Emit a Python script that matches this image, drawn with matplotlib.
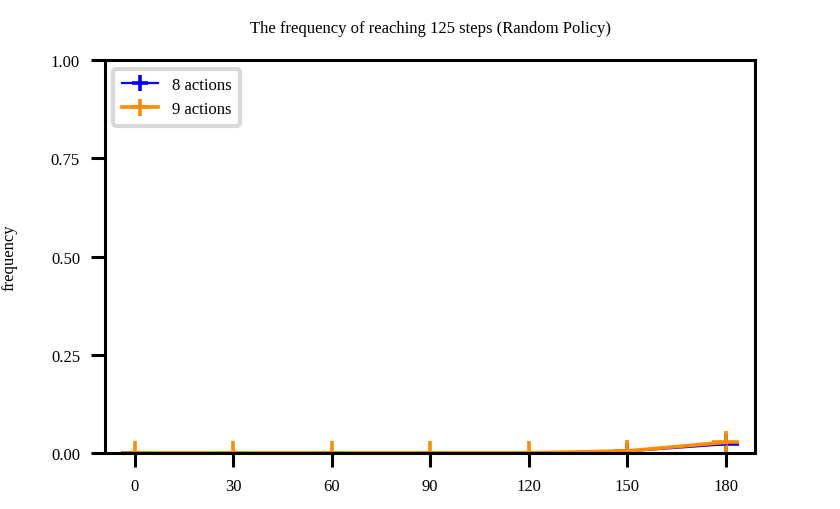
import matplotlib
matplotlib.use("Agg")
import matplotlib.pyplot as plt

plt.rcParams['font.family'] = ['Liberation Serif', 'DejaVu Serif']

x = [0, 30, 60, 90, 120, 150, 180]
y8 = [0.0, 0.0, 0.0, 0.0, 0.0, 0.004, 0.022]
y9 = [0.0, 0.0, 0.0, 0.0, 0.0, 0.005, 0.027]
e8 = [0.0, 0.0, 0.0, 0.0, 0.0, 0.02, 0.025]
e9 = [0.03, 0.03, 0.03, 0.03, 0.03, 0.028, 0.03]
xe = [4, 4, 4, 4, 4, 4, 4]
labels = ["8 actions", "9 actions"]

fig = plt.figure(figsize=(4.2, 2.55), dpi=200)
ax = fig.add_axes([0.125, 0.110, 0.774, 0.770])
ax.errorbar(x, y8, yerr=e8, xerr=xe, color='blue', lw=0.8, elinewidth=1.3, label=labels[0])
ax.errorbar(x, y9, yerr=e9, xerr=xe, color='darkorange', lw=1.3, elinewidth=1.3, label=labels[1])
ax.set_xlim(-9, 189)
ax.set_ylim(0, 1)
ax.set_xticks(x)
ax.set_yticks([0, 0.25, 0.5, 0.75, 1.0])
ax.set_yticklabels(["0.00", "0.25", "0.50", "0.75", "1.00"])
ax.tick_params(labelsize=6, width=1.1, length=5, pad=4)
for s in ax.spines.values():
    s.set_linewidth(1.1)
ax.set_ylabel("frequency", fontsize=6, labelpad=12)
ax.set_title("The frequency of reaching 125 steps (Random Policy)", fontsize=6, pad=10)
leg = ax.legend(loc='upper left', fontsize=6, frameon=True, fancybox=True,
                handlelength=2.2, borderpad=0.5)
leg.get_frame().set_edgecolor('#d0d0d0')
leg.get_frame().set_linewidth(1.5)
fig.savefig("out.png", dpi=200)
